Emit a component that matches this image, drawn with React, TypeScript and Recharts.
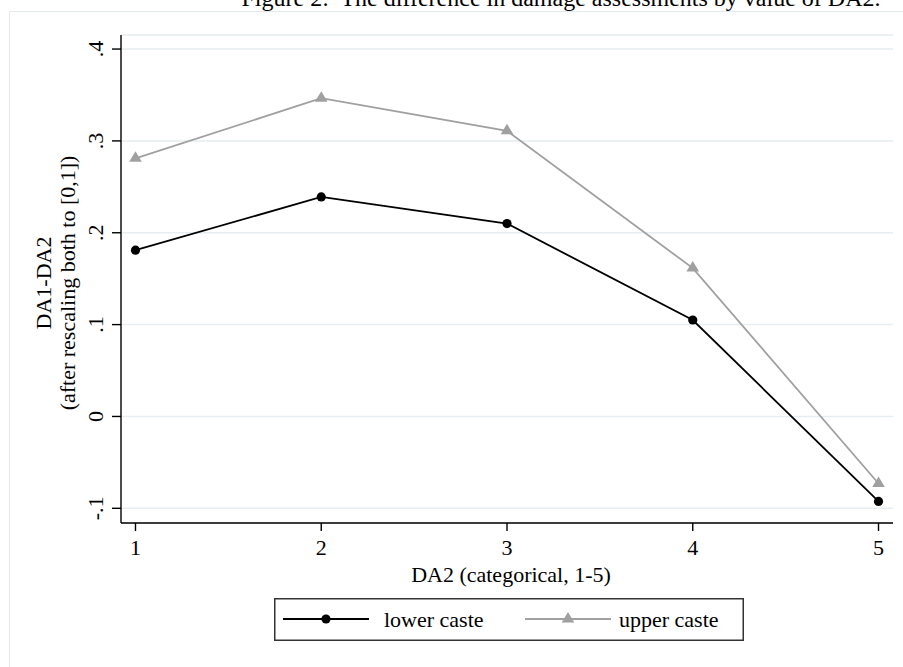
import React from 'react';
import { LineChart, Line, XAxis, YAxis, CartesianGrid, Legend } from 'recharts';

const categories = [1, 2, 3, 4, 5];
const lowerCaste = [0.181, 0.239, 0.21, 0.105, -0.0925];
const upperCaste = [0.281, 0.3465, 0.311, 0.1615, -0.073];
const yTicks = [-0.1, 0, 0.1, 0.2, 0.3, 0.4];
const yTickLabels = ['-.1', '0', '.1', '.2', '.3', '.4'];
const xTicks = [1, 2, 3, 4, 5];
const seriesNames = ['lower caste', 'upper caste'];
const titleText = 'Figure 2:  The difference in damage assessments by value of DA2.';
const xLabel = 'DA2 (categorical, 1-5)';
const yLabelLines = ['DA1-DA2', '(after rescaling both to [0,1])'];

const data = categories.map((c, i) => ({ da2: c, lower: lowerCaste[i], upper: upperCaste[i] }));

const FONT = "'Liberation Serif', 'Times New Roman', serif";
const BLACK = '#000000';
const GRAY = '#a0a0a0';

const CircleDot = (props: any) => {
  const { cx, cy } = props;
  if (cx == null || cy == null) return null;
  return <circle cx={cx} cy={cy} r={4.6} fill={BLACK} stroke="none" />;
};

const TriDot = (props: any) => {
  const { cx, cy } = props;
  if (cx == null || cy == null) return null;
  const w = 6.3;
  const h = 10.5;
  return (
    <polygon
      points={`${cx - w},${cy + h / 3} ${cx + w},${cy + h / 3} ${cx},${cy - (2 * h) / 3}`}
      fill={GRAY}
      stroke="none"
    />
  );
};

const XTick = (props: any) => {
  const { x, y, payload } = props;
  return (
    <text x={x} y={y + 22} textAnchor="middle" fontFamily={FONT} fontSize={22} fill="#000">
      {String(payload.value)}
    </text>
  );
};

const YTick = (props: any) => {
  const { x, y, payload } = props;
  const idx = yTicks.findIndex((t) => Math.abs(t - payload.value) < 1e-9);
  const label = idx >= 0 ? yTickLabels[idx] : String(payload.value);
  const bx = x - 7;
  return (
    <text
      x={bx}
      y={y}
      transform={`rotate(-90, ${bx}, ${y})`}
      textAnchor="middle"
      fontFamily={FONT}
      fontSize={22}
      fill="#000"
    >
      {label}
    </text>
  );
};

const XAxisLabel = (props: any) => {
  const vb = props.viewBox || {};
  const cx = vb.x + vb.width / 2 + 4;
  const by = vb.y + 59;
  return (
    <text x={cx} y={by} textAnchor="middle" fontFamily={FONT} fontSize={22} fill="#000">
      {xLabel}
    </text>
  );
};

const YAxisLabel = (props: any) => {
  const vb = props.viewBox || {};
  const cy = vb.y + vb.height / 2 + 4;
  const positions = [51, 75];
  return (
    <g>
      {yLabelLines.map((line, i) => (
        <text
          key={i}
          x={positions[i]}
          y={cy}
          transform={`rotate(-90, ${positions[i]}, ${cy})`}
          textAnchor="middle"
          fontFamily={FONT}
          fontSize={22}
          fill="#000"
        >
          {line}
        </text>
      ))}
    </g>
  );
};

const LegendBox = () => {
  const items = [
    { name: seriesNames[0], color: BLACK, marker: 'circle', lx: 9, tx: 110 },
    { name: seriesNames[1], color: GRAY, marker: 'tri', lx: 251, tx: 345 },
  ];
  return (
    <svg width={470} height={43} style={{ display: 'block' }}>
      <rect x={0.75} y={0.75} width={468.5} height={41.5} fill="#fff" stroke="#333" strokeWidth={1.5} />
      {items.map((it) => {
        const mx = it.lx + 43;
        return (
          <g key={it.name}>
            <line x1={it.lx} x2={it.lx + 86} y1={21} y2={21} stroke={it.color} strokeWidth={1.8} />
            {it.marker === 'circle' ? (
              <circle cx={mx} cy={21} r={4.6} fill={it.color} />
            ) : (
              <polygon points={`${mx - 6.3},${24.5} ${mx + 6.3},${24.5} ${mx},${14}`} fill={it.color} />
            )}
            <text x={it.tx} y={29} fontFamily={FONT} fontSize={22} fill="#000">
              {it.name}
            </text>
          </g>
        );
      })}
    </svg>
  );
};

export default function App() {
  return (
    <div style={{ position: 'absolute', left: 0, top: 0, width: 903, height: 667, overflow: 'hidden', background: '#fff' }}>
      <div
        style={{
          position: 'absolute',
          left: 9,
          top: 11,
          width: 920,
          height: 680,
          border: '1px solid #e2eaee',
          boxSizing: 'border-box',
        }}
      />
      <div
        style={{
          position: 'absolute',
          left: 561,
          top: -16,
          transform: 'translateX(-50%)',
          whiteSpace: 'pre',
          fontFamily: FONT,
          fontSize: 24,
          lineHeight: '28px',
          color: '#000',
        }}
      >
        {titleText}
      </div>
      <div style={{ position: 'absolute', left: 0, top: 0 }}>
        <LineChart width={903} height={667} data={data} margin={{ top: 35, right: 10, bottom: 0, left: 0 }}>
          <CartesianGrid vertical={false} stroke="#e6eef1" strokeWidth={1.5} />
          <XAxis
            dataKey="da2"
            type="number"
            domain={[0.922, 5.078]}
            ticks={xTicks}
            allowDataOverflow
            height={144}
            tickSize={8}
            tickMargin={2}
            axisLine={{ stroke: '#000', strokeWidth: 1.4 }}
            tickLine={{ stroke: '#000', strokeWidth: 1.4 }}
            tick={<XTick />}
            label={<XAxisLabel />}
            interval={0}
          />
          <YAxis
            type="number"
            domain={[-0.116, 0.4153]}
            ticks={yTicks}
            allowDataOverflow
            width={121}
            tickSize={9}
            tickMargin={2}
            axisLine={{ stroke: '#000', strokeWidth: 1.4 }}
            tickLine={{ stroke: '#000', strokeWidth: 1.4 }}
            tick={<YTick />}
            label={<YAxisLabel />}
            interval={0}
          />
          <Line
            type="linear"
            dataKey="upper"
            name={seriesNames[1]}
            stroke={GRAY}
            strokeWidth={1.8}
            dot={<TriDot />}
            activeDot={false}
            isAnimationActive={false}
          />
          <Line
            type="linear"
            dataKey="lower"
            name={seriesNames[0]}
            stroke={BLACK}
            strokeWidth={1.8}
            dot={<CircleDot />}
            activeDot={false}
            isAnimationActive={false}
          />
          <Legend
            layout="vertical"
            align="center"
            verticalAlign="middle"
            wrapperStyle={{ position: 'absolute', left: 274, top: 598, width: 470, height: 43 }}
            content={<LegendBox />}
          />
        </LineChart>
      </div>
    </div>
  );
}
